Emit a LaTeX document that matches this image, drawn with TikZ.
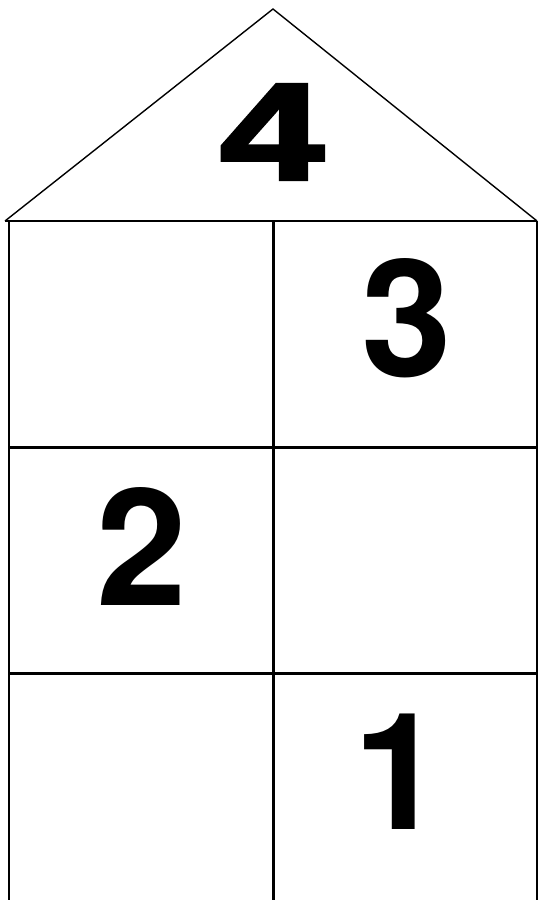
\documentclass[tikz,border=0pt]{standalone}
\usepackage{fontspec}
\setmainfont{Liberation Sans}
\newfontfamily\digitfont{TeX Gyre Heros}
\newfontfamily\heavyfont[FakeBold=2.5]{Liberation Sans Bold}
\begin{document}
\begin{tikzpicture}[x=1pt,y=-1pt,
  wall/.style={line width=2.2pt,line cap=butt},
  roofline/.style={line width=1.4pt},
  digit/.style={inner sep=0pt,font=\digitfont\bfseries\fontsize{163}{163}\selectfont},
  bigdigit/.style={inner sep=0pt,xscale=1.35,font=\heavyfont\fontsize{138}{138}\selectfont}]
\useasboundingbox (0,0) rectangle (538,900);
% key points
\coordinate (apex) at (273,9);
\coordinate (eaveL) at (5,221);
\coordinate (eaveR) at (537,221);
\coordinate (wallLt) at (9,221);
\coordinate (wallLb) at (9,900);
\coordinate (midT) at (273.5,221);
\coordinate (midB) at (273.5,900);
\coordinate (wallRt) at (537,221);
\coordinate (wallRb) at (537,900);
\coordinate (h1L) at (9,447.5);
\coordinate (h1R) at (537,447.5);
\coordinate (h2L) at (9,673.5);
\coordinate (h2R) at (537,673.5);
% roof
\draw[roofline] (eaveL) -- (apex) -- (eaveR);
\draw[wall] (eaveL) -- (eaveR);
% walls
\draw[wall] (wallLt) -- (wallLb);
\draw[wall] (midT) -- (midB);
\draw[wall] (wallRt) -- (wallRb);
\draw[wall] (h1L) -- (h1R);
\draw[wall] (h2L) -- (h2R);
% digits
\node[bigdigit] (n4) at (272,132) {4};
\node[digit] (n3) at (407,318) {3};
\node[digit] (n2) at (142,546) {2};
\node[digit] (n1) at (399,772) {1};
\end{tikzpicture}
\end{document}
